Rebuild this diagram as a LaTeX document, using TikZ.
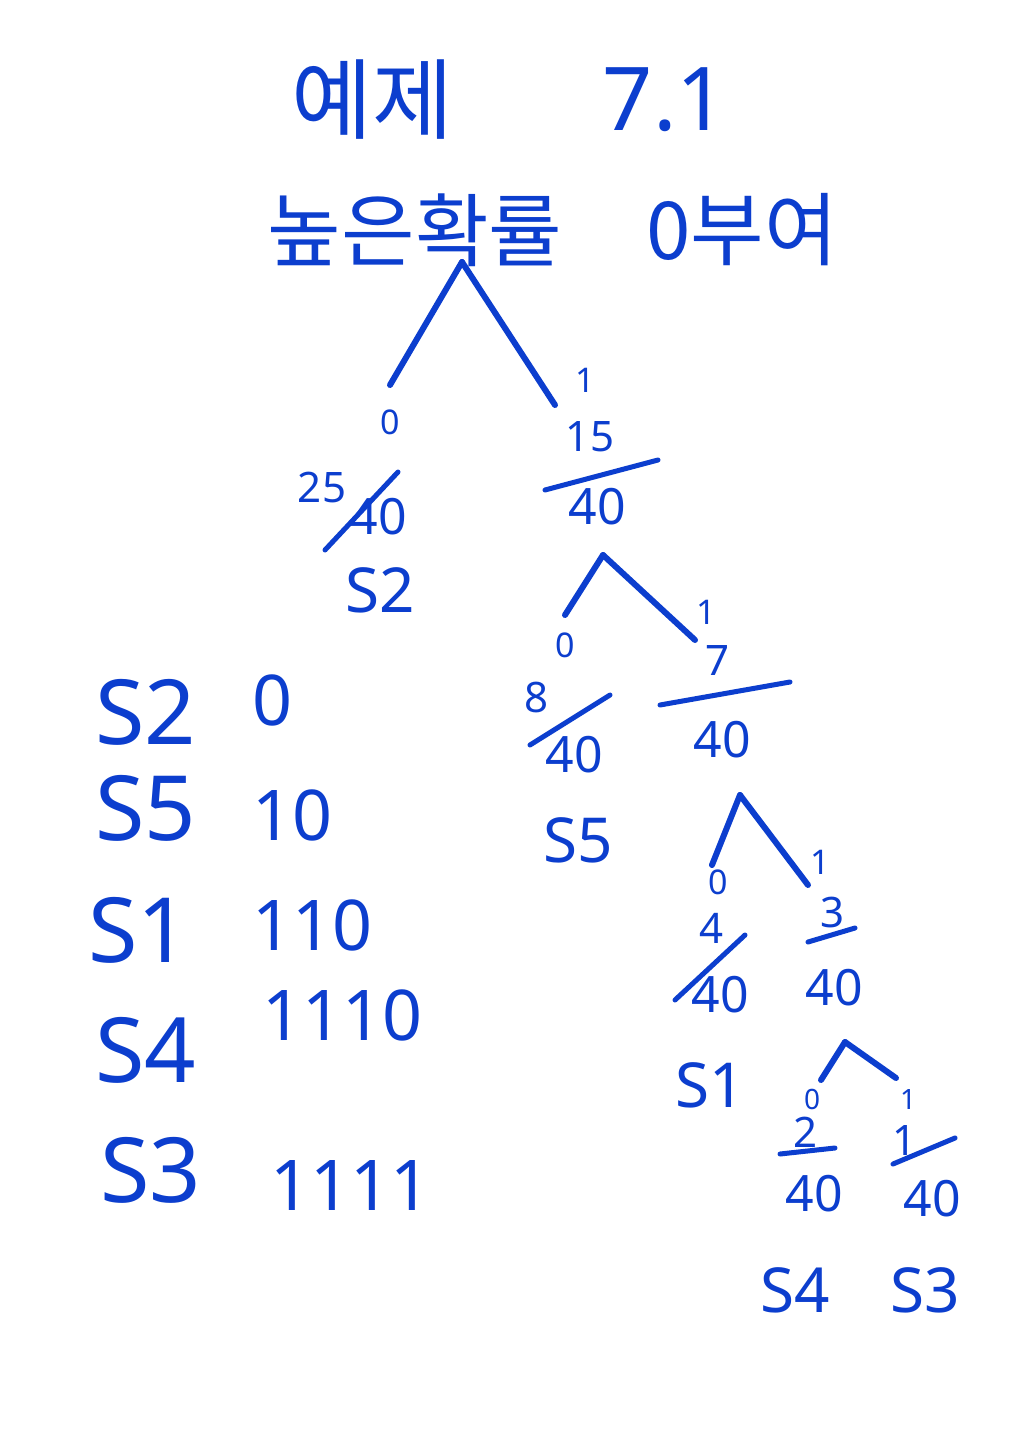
\documentclass[tikz,border=0pt]{standalone}
\usepackage{fontspec}
\setmainfont{Noto Sans}
\newfontfamily\krfont{Noto Sans CJK KR}
\definecolor{inkblue}{RGB}{12,62,206}
\begin{document}
\begin{tikzpicture}[x=1pt,y=-1pt,
  txt/.style={text=inkblue, inner sep=0pt},
  krtitle/.style={txt, font=\krfont\fontsize{88}{96}\selectfont},
  krsub/.style={txt, font=\krfont\fontsize{80}{90}\selectfont},
  numtitle/.style={txt, font=\fontsize{88}{96}\selectfont},
  lab/.style={txt, font=\fontsize{34}{40}\selectfont},
  smalllab/.style={txt, font=\fontsize{28}{32}\selectfont},
  num/.style={txt, font=\fontsize{42}{48}\selectfont},
  den/.style={txt, font=\fontsize{50}{56}\selectfont},
  sym/.style={txt, font=\fontsize{62}{70}\selectfont},
  lsym/.style={txt, font=\fontsize{90}{100}\selectfont, anchor=west},
  lcode/.style={txt, font=\fontsize{70}{80}\selectfont, anchor=west},
  edge/.style={draw=inkblue, line width=6pt, line cap=round},
  bar/.style={draw=inkblue, line width=5pt, line cap=round}
]
\fill[white] (0,0) rectangle (1018,1440);
\useasboundingbox (0,0) rectangle (1018,1440);

% title
\node[krtitle] (t1) at (372,100) {예제};
\node[numtitle] (t2) at (665,100) {7.1};
\node[krsub] (t3) at (415,230) {높은확률};
\node[krsub] (t4) at (742,230) {0부여};

% root
\coordinate (root) at (462,262);
\coordinate (rootL) at (390,385);
\coordinate (rootR) at (555,405);
\draw[edge] (root) -- (rootL);
\draw[edge] (root) -- (rootR);
\node[lab] (eA) at (390,422) {0};
\node[lab] (eB) at (585,380) {1};

% 25/40  S2
\node[num] (An) at (322,487) {25};
\node[den] (Ad) at (378,517) {40};
\coordinate (Ab1) at (325,550);
\coordinate (Ab2) at (398,472);
\draw[bar] (Ab1) -- (Ab2);
\node[sym] (As) at (380,590) {S2};

% 15/40
\node[num] (Bn) at (590,437) {15};
\coordinate (Bb1) at (545,490);
\coordinate (Bb2) at (658,460);
\draw[bar] (Bb1) -- (Bb2);
\node[den] (Bd) at (597,507) {40};

% children of 15/40
\coordinate (Bapex) at (603,555);
\coordinate (BL) at (565,615);
\coordinate (BR) at (695,640);
\draw[edge] (Bapex) -- (BL);
\draw[edge] (Bapex) -- (BR);
\node[lab] (eC) at (565,645) {0};
\node[lab] (eD) at (706,612) {1};

% 8/40 S5
\node[num] (Cn) at (537,697) {8};
\coordinate (Cb1) at (530,745);
\coordinate (Cb2) at (610,695);
\draw[bar] (Cb1) -- (Cb2);
\node[den] (Cd) at (574,755) {40};
\node[sym] (Cs) at (578,840) {S5};

% 7/40
\node[num] (Dn) at (718,660) {7};
\coordinate (Db1) at (660,705);
\coordinate (Db2) at (790,682);
\draw[bar] (Db1) -- (Db2);
\node[den] (Dd) at (722,740) {40};

% children of 7/40
\coordinate (Dapex) at (740,795);
\coordinate (DL) at (712,865);
\coordinate (DR) at (808,885);
\draw[edge] (Dapex) -- (DL);
\draw[edge] (Dapex) -- (DR);
\node[lab] (eE) at (718,882) {0};
\node[lab] (eF) at (820,862) {1};

% 4/40 S1
\node[num] (En) at (712,928) {4};
\coordinate (Eb1) at (675,1000);
\coordinate (Eb2) at (745,935);
\draw[bar] (Eb1) -- (Eb2);
\node[den] (Ed) at (720,995) {40};
\node[sym] (Es) at (710,1085) {S1};

% 3/40
\node[num] (Fn) at (833,912) {3};
\coordinate (Fb1) at (808,942);
\coordinate (Fb2) at (855,928);
\draw[bar] (Fb1) -- (Fb2);
\node[den] (Fd) at (834,988) {40};

% children of 3/40
\coordinate (Fapex) at (845,1042);
\coordinate (FL) at (821,1080);
\coordinate (FR) at (896,1078);
\draw[edge] (Fapex) -- (FL);
\draw[edge] (Fapex) -- (FR);
\node[smalllab] (eG) at (812,1099) {0};
\node[smalllab] (eH) at (908,1099) {1};

% 2/40 S4
\node[num] (Gn) at (806,1132) {2};
\coordinate (Gb1) at (780,1154);
\coordinate (Gb2) at (835,1148);
\draw[bar] (Gb1) -- (Gb2);
\node[den] (Gd) at (814,1194) {40};
\node[sym] (Gs) at (795,1290) {S4};

% 1/40 S3
\node[num] (Hn) at (905,1140) {1};
\coordinate (Hb1) at (893,1164);
\coordinate (Hb2) at (955,1138);
\draw[bar] (Hb1) -- (Hb2);
\node[den] (Hd) at (932,1199) {40};
\node[sym] (Hs) at (925,1290) {S3};

% code list
\node[lsym] (L1s) at (95,712) {S2};
\node[lcode] (L1c) at (252,700) {0};
\node[lsym] (L2s) at (95,808) {S5};
\node[lcode] (L2c) at (252,815) {10};
\node[lsym] (L3s) at (88,930) {S1};
\node[lcode] (L3c) at (252,925) {110};
\node[lsym] (L4s) at (95,1050) {S4};
\node[lcode] (L4c) at (262,1015) {1110};
\node[lsym] (L5s) at (100,1170) {S3};
\node[lcode] (L5c) at (270,1185) {1111};
\end{tikzpicture}
\end{document}
